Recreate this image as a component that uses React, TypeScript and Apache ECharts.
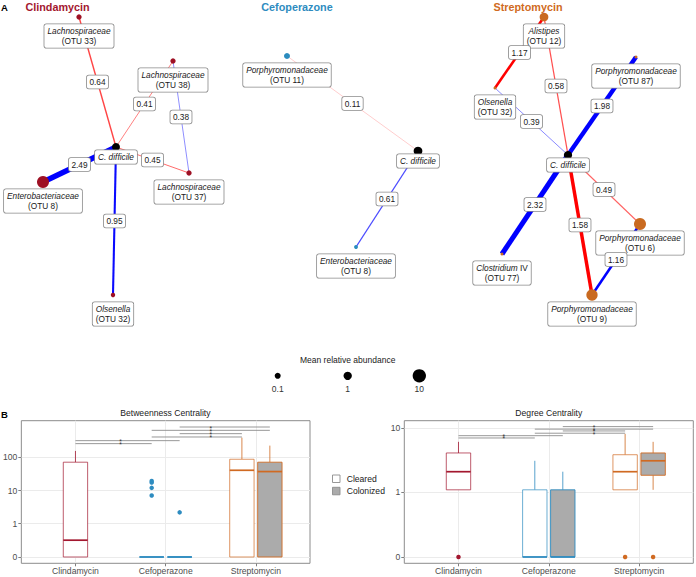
import React, { useEffect, useRef } from 'react';
import * as echarts from 'echarts';

const FONT = '"Liberation Sans", Arial, Helvetica, sans-serif';

// ---------------- shared ----------------
const treatments = ['Clindamycin', 'Cefoperazone', 'Streptomycin'];
const groups = ['Cleared', 'Colonized'];
const treatmentColors = ['#A3172F', '#2E8CC0', '#D06A22'];
const nodeColors = ['#9E1024', '#2B8CBE', '#C96A20'];
const groupFills = ['#FFFFFF', '#ABABAB'];

// ---------------- panel A : networks ----------------
// id, italic name, roman suffix, OTU, layout x, layout y, mean relative abundance
type Node = [string, string, string, string, number, number, number];
// source, target, weight, sign (+1 positive / -1 negative)
type Edge = [string, string, number, number];

const clindamycinNodes: Node[] = [
  ['cdiff', 'C. difficile', '', '', 116, 147, 0.7],
  ['otu33', 'Lachnospiraceae', '', 'OTU 33', 79, 17, 0.06],
  ['otu38', 'Lachnospiraceae', '', 'OTU 38', 173, 61, 0.06],
  ['otu37', 'Lachnospiraceae', '', 'OTU 37', 189, 173, 0.06],
  ['otu8', 'Enterobacteriaceae', '', 'OTU 8', 43, 182, 5.5],
  ['otu32', 'Olsenella', '', 'OTU 32', 113, 295, 0.03],
];
const clindamycinEdges: Edge[] = [
  ['cdiff', 'otu33', 0.64, 1],
  ['cdiff', 'otu38', 0.41, 1],
  ['otu38', 'otu37', 0.38, -1],
  ['cdiff', 'otu37', 0.45, 1],
  ['cdiff', 'otu8', 2.49, -1],
  ['cdiff', 'otu32', 0.95, -1],
];
const cefoperazoneNodes: Node[] = [
  ['cdiff', 'C. difficile', '', '', 418, 151, 1.2],
  ['otu11', 'Porphyromonadaceae', '', 'OTU 11', 287, 56, 0.1],
  ['otu8', 'Enterobacteriaceae', '', 'OTU 8', 356, 247, 0.02],
];
const cefoperazoneEdges: Edge[] = [
  ['otu11', 'cdiff', 0.11, 1],
  ['cdiff', 'otu8', 0.61, -1],
];
const streptomycinNodes: Node[] = [
  ['cdiff', 'C. difficile', '', '', 568, 155, 0.9],
  ['otu12', 'Alistipes', '', 'OTU 12', 544, 17, 1.2],
  ['otu32', 'Olsenella', '', 'OTU 32', 495, 88, 0.01],
  ['otu87', 'Porphyromonadaceae', '', 'OTU 87', 636, 57, 0.01],
  ['otu6', 'Porphyromonadaceae', '', 'OTU 6', 640, 224, 5.5],
  ['otu77', 'Clostridium', ' IV', 'OTU 77', 502, 254, 0.01],
  ['otu9', 'Porphyromonadaceae', '', 'OTU 9', 592, 295, 4],
];
const streptomycinEdges: Edge[] = [
  ['otu12', 'otu32', 1.17, 1],
  ['otu12', 'cdiff', 0.58, 1],
  ['otu32', 'cdiff', 0.39, -1],
  ['otu87', 'cdiff', 1.98, -1],
  ['cdiff', 'otu6', 0.49, 1],
  ['cdiff', 'otu77', 2.32, -1],
  ['cdiff', 'otu9', 1.58, 1],
  ['otu6', 'otu9', 1.16, -1],
];
const networkNodes = [clindamycinNodes, cefoperazoneNodes, streptomycinNodes];
const networkEdges = [clindamycinEdges, cefoperazoneEdges, streptomycinEdges];
const abundanceBreaks = [0.1, 1, 10];

// ---------------- panel B : centrality boxplots ----------------
// treatment, group, lower whisker, q1, median, q3, upper whisker
type Box = [string, string, number, number, number, number, number];
const betweennessBoxes: Box[] = [
  ['Clindamycin', 'Cleared', 0, 0, 0.22, 71, 155],
  ['Cefoperazone', 'Cleared', 0, 0, 0, 0, 0],
  ['Cefoperazone', 'Colonized', 0, 0, 0, 0, 0],
  ['Streptomycin', 'Cleared', 0, 0, 40.5, 87, 390],
  ['Streptomycin', 'Colonized', 0, 0, 37, 71, 224],
];
const betweennessOutliers: [string, string, number][] = [
  ['Cefoperazone', 'Cleared', 19.3],
  ['Cefoperazone', 'Cleared', 17.2],
  ['Cefoperazone', 'Cleared', 11.9],
  ['Cefoperazone', 'Cleared', 7.0],
  ['Cefoperazone', 'Colonized', 2.1],
];
const degreeBoxes: Box[] = [
  ['Clindamycin', 'Cleared', 1, 1, 2, 4, 6],
  ['Cefoperazone', 'Cleared', 0, 0, 0, 1, 3],
  ['Cefoperazone', 'Colonized', 0, 0, 0, 1, 2],
  ['Streptomycin', 'Cleared', 1, 1, 2, 3.75, 8],
  ['Streptomycin', 'Colonized', 1, 1.75, 3, 4, 6],
];
const degreeOutliers: [string, string, number][] = [
  ['Clindamycin', 'Cleared', 0],
  ['Streptomycin', 'Cleared', 0],
  ['Streptomycin', 'Colonized', 0],
];
// significance comparisons: [treatment, group] vs [treatment, group]
const comparisons: [[string, string], [string, string]][] = [
  [['Clindamycin', 'Cleared'], ['Cefoperazone', 'Cleared']],
  [['Clindamycin', 'Cleared'], ['Cefoperazone', 'Colonized']],
  [['Cefoperazone', 'Cleared'], ['Streptomycin', 'Cleared']],
  [['Cefoperazone', 'Colonized'], ['Streptomycin', 'Cleared']],
  [['Cefoperazone', 'Cleared'], ['Streptomycin', 'Colonized']],
  [['Cefoperazone', 'Colonized'], ['Streptomycin', 'Colonized']],
];
const comparisonLabels = ['*', '*', '*', '*', '*', '*'];
const betweennessBracketHeights = [257, 316, 407, 513, 646, 813];
const degreeBracketHeights = [6.9, 7.5, 8.2, 8.9, 9.5, 10.4];
const betweennessTicks = [0, 1, 10, 100];
const degreeTicks = [0, 1, 10];

// ---------------- helpers ----------------
const tf = (v: number) => Math.log10(v + 0.1);
const tickPos = (v: number) => (v === 0 ? -1 : Math.log10(v));
const sizeOf = (a: number) => {
  const l = Math.log10(a);
  if (l < -1) return Math.max(2.8, 6 + 3 * (l + 1));
  if (l < 0) return 6 + 2.3 * (l + 1);
  return 8.3 + 5 * l;
};
const edgeWidth = (w: number) => Math.max(0.6, 2.2 * w);
const edgeOpacity = (w: number) => Math.min(1, 0.25 + 0.75 * w);
const DODGE = 0.155;
const BOXW = 0.27;
const boxX = (boxes: Box[], t: string, g: string) => {
  const ti = treatments.indexOf(t);
  const n = boxes.filter((b) => b[0] === t).length;
  if (n <= 1) return ti + 1;
  return ti + 1 + (groups.indexOf(g) === 0 ? -DODGE : DODGE);
};

function buildNetworkSeries() {
  const edgeData: any[] = [];
  const nodeData: any[] = [];
  const edgeLabelData: any[] = [];
  networkNodes.forEach((nodes, ni) => {
    const pos: Record<string, [number, number]> = {};
    nodes.forEach((n) => (pos[n[0]] = [n[4], n[5]]));
    networkEdges[ni].forEach((e) => {
      const a = pos[e[0]];
      const b = pos[e[1]];
      edgeData.push([a[0], a[1], b[0], b[1], e[2], e[3]]);
      edgeLabelData.push({
        value: [(a[0] + b[0]) / 2, (a[1] + b[1]) / 2],
        label: { formatter: e[2].toFixed(2) },
      });
    });
    nodes.forEach((n) => {
      const isC = n[0] === 'cdiff';
      const txt = n[3]
        ? `{i|${n[1]}}${n[2] ? `{n|${n[2]}}` : ''}\n{n|(${n[3]})}`
        : `{i|${n[1]}}`;
      nodeData.push({
        value: [n[4], n[5]],
        symbolSize: sizeOf(n[6]),
        itemStyle: { color: isC ? '#000000' : nodeColors[ni], opacity: 1 },
        label: { formatter: txt, offset: [0, n[3] ? 19 : 10] },
      });
    });
  });
  const boxLabel = {
    backgroundColor: '#FFFFFF',
    borderColor: '#8A8A8A',
    borderWidth: 0.8,
    borderRadius: 2,
    opacity: 1,
  };
  return [
    {
      type: 'custom',
      xAxisIndex: 0,
      yAxisIndex: 0,
      z: 1,
      silent: true,
      encode: { x: [0, 2], y: [1, 3] },
      data: edgeData,
      renderItem: (params: any, api: any) => {
        const a = api.coord([api.value(0), api.value(1)]);
        const b = api.coord([api.value(2), api.value(3)]);
        const w = api.value(4);
        return {
          type: 'line',
          shape: { x1: a[0], y1: a[1], x2: b[0], y2: b[1] },
          style: {
            stroke: api.value(5) > 0 ? '#FF0000' : '#0000FF',
            lineWidth: edgeWidth(w),
            opacity: edgeOpacity(w),
          },
        };
      },
    },
    {
      type: 'scatter',
      xAxisIndex: 0,
      yAxisIndex: 0,
      z: 5,
      silent: true,
      itemStyle: { opacity: 1 },
      data: nodeData,
      label: {
        show: true,
        position: 'inside',
        align: 'center',
        verticalAlign: 'middle',
        padding: [1.5, 3, 1.5, 3],
        ...boxLabel,
        rich: {
          i: { fontFamily: FONT, fontStyle: 'italic', fontSize: 8.3, lineHeight: 10.3, color: '#1A1A1A', align: 'center' },
          n: { fontFamily: FONT, fontSize: 8.3, lineHeight: 10.3, color: '#1A1A1A', align: 'center' },
        },
      },
    },
    {
      type: 'scatter',
      xAxisIndex: 0,
      yAxisIndex: 0,
      z: 6,
      silent: true,
      symbolSize: 0.1,
      itemStyle: { color: 'rgba(0,0,0,0)', opacity: 1 },
      data: edgeLabelData,
      label: {
        show: true,
        position: 'inside',
        fontFamily: FONT,
        fontSize: 8.3,
        lineHeight: 10,
        color: '#1A1A1A',
        padding: [1.5, 2.5, 1.5, 2.5],
        ...boxLabel,
      },
    },
  ];
}

function buildBoxSeries(
  boxes: Box[],
  outliers: [string, string, number][],
  bracketHeights: number[],
  axisIndex: number
) {
  const boxData = boxes.map((b) => [
    boxX(boxes, b[0], b[1]),
    tf(b[2]),
    tf(b[3]),
    tf(b[4]),
    tf(b[5]),
    tf(b[6]),
    treatments.indexOf(b[0]),
    groups.indexOf(b[1]),
  ]);
  const outlierData = outliers.map((o) => ({
    value: [boxX(boxes, o[0], o[1]), tf(o[2])],
    itemStyle: { color: treatmentColors[treatments.indexOf(o[0])], opacity: 1 },
  }));
  const bracketData = comparisons.map((c, i) => [
    boxX(boxes, c[0][0], c[0][1]),
    boxX(boxes, c[1][0], c[1][1]),
    tf(bracketHeights[i]),
  ]);
  const starData = comparisons.map((c, i) => ({
    value: [(treatments.indexOf(c[0][0]) + treatments.indexOf(c[1][0])) / 2 + 1, tf(bracketHeights[i])],
    label: { formatter: comparisonLabels[i] },
  }));
  return [
    {
      type: 'custom',
      xAxisIndex: axisIndex,
      yAxisIndex: axisIndex,
      z: 3,
      silent: true,
      encode: { x: 0, y: [1, 2, 3, 4, 5] },
      data: boxData,
      renderItem: (params: any, api: any) => {
        const x = api.value(0);
        const lo = api.value(1);
        const q1 = api.value(2);
        const med = api.value(3);
        const q3 = api.value(4);
        const hi = api.value(5);
        const ti = api.value(6);
        const gi = api.value(7);
        const col = treatmentColors[ti];
        const tl = api.coord([x - BOXW / 2, q3]);
        const br = api.coord([x + BOXW / 2, q1]);
        const mL = api.coord([x - BOXW / 2, med]);
        const mR = api.coord([x + BOXW / 2, med]);
        const pHi = api.coord([x, hi]);
        const pQ3 = api.coord([x, q3]);
        const pQ1 = api.coord([x, q1]);
        const pLo = api.coord([x, lo]);
        const thin = { stroke: col, lineWidth: 1, opacity: 0.8 };
        const children: any[] = [];
        if (hi > q3 + 1e-9) children.push({ type: 'line', shape: { x1: pHi[0], y1: pHi[1], x2: pQ3[0], y2: pQ3[1] }, style: thin });
        if (lo < q1 - 1e-9) children.push({ type: 'line', shape: { x1: pLo[0], y1: pLo[1], x2: pQ1[0], y2: pQ1[1] }, style: thin });
        children.push({
          type: 'rect',
          shape: { x: tl[0], y: tl[1], width: br[0] - tl[0], height: br[1] - tl[1] },
          style: { fill: groupFills[gi], stroke: col, lineWidth: 1, strokeOpacity: gi === 0 ? 0.7 : 0.9 },
        });
        children.push({
          type: 'line',
          shape: { x1: mL[0], y1: mL[1], x2: mR[0], y2: mR[1] },
          style: { stroke: col, lineWidth: 1.7 },
        });
        return { type: 'group', children };
      },
    },
    {
      type: 'scatter',
      xAxisIndex: axisIndex,
      yAxisIndex: axisIndex,
      z: 4,
      silent: true,
      symbolSize: 4.5,
      itemStyle: { opacity: 1 },
      data: outlierData,
    },
    {
      type: 'custom',
      xAxisIndex: axisIndex,
      yAxisIndex: axisIndex,
      z: 5,
      silent: true,
      encode: { x: [0, 1], y: 2 },
      data: bracketData,
      renderItem: (params: any, api: any) => {
        const a = api.coord([api.value(0), api.value(2)]);
        const b = api.coord([api.value(1), api.value(2)]);
        return {
          type: 'line',
          shape: { x1: a[0], y1: a[1], x2: b[0], y2: b[1] },
          style: { stroke: '#8C8C8C', lineWidth: 0.9 },
        };
      },
    },
    {
      type: 'scatter',
      xAxisIndex: axisIndex,
      yAxisIndex: axisIndex,
      z: 6,
      silent: true,
      symbolSize: 0.1,
      itemStyle: { color: 'rgba(0,0,0,0)', opacity: 1 },
      data: starData,
      label: { show: true, position: 'inside', fontFamily: FONT, fontSize: 6.5, color: '#333333', offset: [0, 1] },
    },
  ];
}

const catAxis = (gridIndex: number) => ({
  type: 'value',
  gridIndex,
  min: 0.4,
  max: 3.6,
  axisLine: { show: false, onZero: false },
  axisTick: { show: true, length: 3, lineStyle: { color: '#7F7F7F' }, customValues: [1, 2, 3] },
  axisLabel: {
    customValues: [1, 2, 3],
    formatter: (v: number) => treatments[Math.round(v) - 1] || '',
    color: '#4D4D4D',
    fontFamily: FONT,
    fontSize: 8.6,
    margin: 3,
  },
  splitLine: { show: true, lineStyle: { color: '#EBEBEB', width: 1 } },
});
const logAxis = (gridIndex: number, min: number, max: number, ticks: number[]) => ({
  type: 'value',
  gridIndex,
  min,
  max,
  axisLine: { show: false, onZero: false },
  axisTick: { show: true, length: 3, lineStyle: { color: '#7F7F7F' }, customValues: ticks.map(tickPos) },
  axisLabel: {
    customValues: ticks.map(tickPos),
    formatter: (v: number) => {
      const t = ticks.find((k) => Math.abs(tickPos(k) - v) < 1e-6);
      return t === undefined ? '' : String(t);
    },
    color: '#4D4D4D',
    fontFamily: FONT,
    fontSize: 8.6,
    margin: 4,
  },
  splitLine: { show: true, lineStyle: { color: '#EBEBEB', width: 1 } },
});

function buildOption() {
  const titleXs = [57.5, 297, 528];
  const legendXs = [277.7, 347.7, 419.3];
  const text = (x: number, y: number, t: string, extra: any = {}) => ({
    type: 'text',
    x,
    y,
    silent: true,
    style: {
      text: t,
      fontFamily: FONT,
      fontSize: 8.6,
      fill: '#1A1A1A',
      align: 'center',
      verticalAlign: 'middle',
      ...extra,
    },
  });
  const graphic: any[] = [
    text(4.5, 7, 'A', { fontWeight: 'bold', fontSize: 9.5, fill: '#000' }),
    text(4.5, 414, 'B', { fontWeight: 'bold', fontSize: 9.5, fill: '#000' }),
    ...treatments.map((t, i) =>
      text(titleXs[i], 6.5, t, { fontWeight: 'bold', fontSize: 10.8, fill: treatmentColors[i] })
    ),
    text(347.7, 360, 'Mean relative abundance', { fontSize: 8.5 }),
    ...abundanceBreaks.map((a, i) => ({
      type: 'circle',
      silent: true,
      shape: { cx: legendXs[i], cy: 375.8, r: sizeOf(a) / 2 },
      style: { fill: '#000' },
    })),
    ...abundanceBreaks.map((a, i) => text(legendXs[i], 388.5, String(a), { fontSize: 8.5, fill: '#333' })),
    text(165.4, 413, 'Betweenness Centrality', { fontSize: 8.6 }),
    text(548.8, 413, 'Degree Centrality', { fontSize: 8.6 }),
    ...groups.map((g, i) => ({
      type: 'rect',
      silent: true,
      shape: { x: 332.5, y: 475 + i * 12.3, width: 7.5, height: 7.5 },
      style: { fill: groupFills[i], stroke: '#8C8C8C', lineWidth: 0.9 },
    })),
    ...groups.map((g, i) => text(346.7, 479 + i * 11.7, g, { align: 'left', fill: '#1A1A1A' })),
  ];

  return {
    animation: false,
    textStyle: { fontFamily: FONT },
    grid: [
      { left: 0, top: 0, width: 696, height: 345, show: false },
      { left: 20.7, top: 420.7, width: 289.3, height: 142.6, show: true, borderColor: '#8C8C8C', borderWidth: 1, backgroundColor: 'transparent' },
      { left: 404.3, top: 420.7, width: 289, height: 142.6, show: true, borderColor: '#8C8C8C', borderWidth: 1, backgroundColor: 'transparent' },
    ],
    xAxis: [
      { type: 'value', gridIndex: 0, min: 0, max: 696, show: false },
      catAxis(1),
      catAxis(2),
    ],
    yAxis: [
      { type: 'value', gridIndex: 0, min: 0, max: 345, inverse: true, show: false },
      logAxis(1, -1.19, 3.1, betweennessTicks),
      logAxis(2, -1.098, 1.113, degreeTicks),
    ],
    series: [
      ...buildNetworkSeries(),
      ...buildBoxSeries(betweennessBoxes, betweennessOutliers, betweennessBracketHeights, 1),
      ...buildBoxSeries(degreeBoxes, degreeOutliers, degreeBracketHeights, 2),
    ],
    graphic,
  };
}

export default function App() {
  const ref = useRef<HTMLDivElement>(null);
  useEffect(() => {
    if (!ref.current) return;
    const chart = echarts.init(ref.current, null, { renderer: 'svg' });
    chart.setOption(buildOption() as any);
    return () => chart.dispose();
  }, []);
  return (
    <div
      ref={ref}
      style={{ position: 'absolute', left: 0, top: 0, width: 696, height: 577, background: '#fff' }}
    />
  );
}
